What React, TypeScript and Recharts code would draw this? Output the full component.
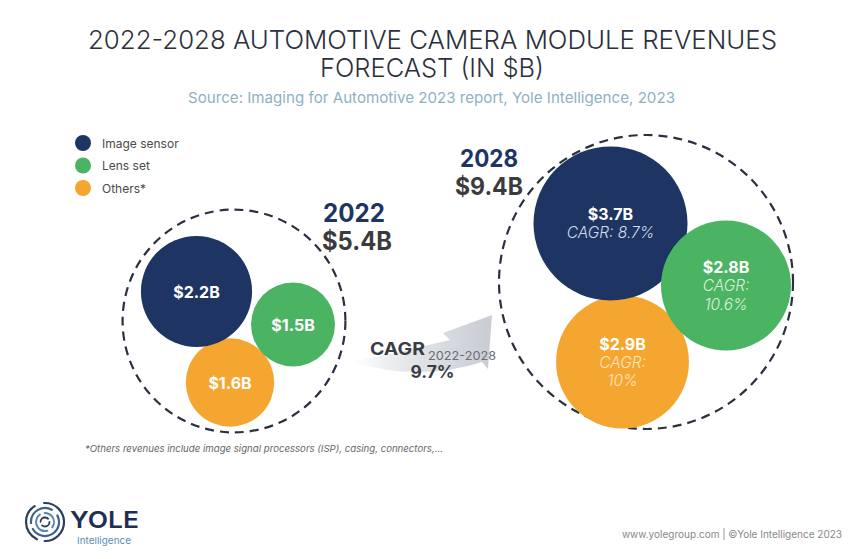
import React from 'react';
import { ScatterChart, Scatter, XAxis, YAxis, ZAxis } from 'recharts';

const W = 865;
const H = 559;

// ---- data ----
const years = ['2022', '2028'];
const yearTotals = [5.4, 9.4];
const segments = ['Image sensor', 'Lens set', 'Others*'];
const revenue2022 = [2.2, 1.5, 1.6];
const revenue2028 = [3.7, 2.8, 2.9];
const cagr2028 = ['8.7%', '10.6%', '10%'];
const totalCagr = '9.7%';
const cagrPeriod = '2022-2028';

// ---- layout (chart units) ----
const groupCenter = [
  [234, 321],
  [646, 282],
];
const bubbleCenter2022 = [
  [196.5, 291.5],
  [293, 324.5],
  [230, 382.5],
];
const bubbleCenter2028 = [
  [610.5, 223.5],
  [726, 285.5],
  [622.5, 362],
];
const drawOrder = [2, 0, 1];

// ---- styles ----
const colors = ['#1e3563', '#4bb462', '#f4a631'];
const cagrColors = ['#d3dcee', '#d9f2dd', '#fde6c0'];
const FONT = 'Inter, "Open Sans", sans-serif';

const fmt = (v: number) => `$${v.toFixed(1)}B`;

const segmentData = (seg: number) => [
  {
    x: bubbleCenter2022[seg][0],
    y: bubbleCenter2022[seg][1],
    v: revenue2022[seg],
    seg,
    cagr: null as string | null,
  },
  {
    x: bubbleCenter2028[seg][0],
    y: bubbleCenter2028[seg][1],
    v: revenue2028[seg],
    seg,
    cagr: cagr2028[seg] as string | null,
  },
];

const totalData = yearTotals.map((v, i) => ({
  x: groupCenter[i][0],
  y: groupCenter[i][1],
  v,
}));

const Bubble = (props: any) => {
  const { cx, cy, width, payload } = props;
  const r = width / 2;
  const seg = payload.seg;
  const valueText = (dy: number) => (
    <text
      x={cx}
      y={cy + dy}
      textAnchor="middle"
      dominantBaseline="central"
      fill="#ffffff"
      fontFamily={FONT}
      fontWeight={700}
      fontSize={16}
    >
      {fmt(payload.v)}
    </text>
  );
  const cagrStyle = {
    fill: cagrColors[seg],
    fontFamily: FONT,
    fontStyle: 'italic' as const,
    fontWeight: 300,
    fontSize: 15.5,
  };
  let content;
  if (!payload.cagr) {
    content = valueText(0);
  } else if (r > 70) {
    content = (
      <>
        {valueText(-10)}
        <text x={cx} y={cy + 9} textAnchor="middle" dominantBaseline="central" style={cagrStyle}>
          {`CAGR: ${payload.cagr}`}
        </text>
      </>
    );
  } else {
    content = (
      <>
        {valueText(-18.5)}
        <text x={cx} y={cy} textAnchor="middle" dominantBaseline="central" style={cagrStyle}>
          CAGR:
        </text>
        <text x={cx} y={cy + 18.5} textAnchor="middle" dominantBaseline="central" style={cagrStyle}>
          {payload.cagr}
        </text>
      </>
    );
  }
  return (
    <g>
      <circle cx={cx} cy={cy} r={r} fill={colors[seg]} />
      {content}
    </g>
  );
};

const DashedRing = (props: any) => {
  const { cx, cy, width } = props;
  return (
    <circle
      cx={cx}
      cy={cy}
      r={width / 2}
      fill="none"
      stroke="#2a3040"
      strokeWidth={2.2}
      strokeDasharray="9 6"
    />
  );
};

const Overlay = () => (
  <svg
    width={W}
    height={H}
    style={{ position: 'absolute', left: 0, top: 0, pointerEvents: 'none' }}
  >
    <defs>
      <linearGradient id="arrowGrad" x1="0" y1="0" x2="1" y2="0">
        <stop offset="0%" stopColor="#ffffff" />
        <stop offset="35%" stopColor="#e6e8eb" />
        <stop offset="100%" stopColor="#c8ccd3" />
      </linearGradient>
    </defs>

    {/* Title */}
    <text x={432.5} y={49} textAnchor="middle" fontFamily={FONT} fontWeight={300} fontSize={26}
      fill="#2c303c" textLength={689} lengthAdjust="spacingAndGlyphs">
      2022-2028 AUTOMOTIVE CAMERA MODULE REVENUES
    </text>
    <text x={432} y={77} textAnchor="middle" fontFamily={FONT} fontWeight={300} fontSize={26}
      fill="#2c303c" textLength={224} lengthAdjust="spacingAndGlyphs">
      FORECAST (IN $B)
    </text>
    <text x={431.5} y={103} textAnchor="middle" fontFamily={FONT} fontWeight={400} fontSize={15}
      fill="#8eb1c3" textLength={487} lengthAdjust="spacingAndGlyphs">
      Source: Imaging for Automotive 2023 report, Yole Intelligence, 2023
    </text>

    {/* Legend */}
    {segments.map((s, i) => (
      <g key={s}>
        <circle cx={83} cy={143 + i * 22.5} r={8} fill={colors[i]} />
        <text x={102} y={143 + i * 22.5} dominantBaseline="central" fontFamily={FONT}
          fontSize={12} fill="#4a4a4a">
          {s}
        </text>
      </g>
    ))}

    {/* Year labels */}
    <text x={354} y={222} textAnchor="middle" fontFamily={FONT} fontWeight={700} fontSize={25}
      fill="#1e3563" textLength={62} lengthAdjust="spacingAndGlyphs">
      {years[0]}
    </text>
    <text x={357} y={250} textAnchor="middle" fontFamily={FONT} fontWeight={700} fontSize={25}
      fill="#3b3b3d" textLength={70} lengthAdjust="spacingAndGlyphs">
      {fmt(yearTotals[0])}
    </text>
    <text x={489} y={167} textAnchor="middle" fontFamily={FONT} fontWeight={700} fontSize={24}
      fill="#1e3563" textLength={58} lengthAdjust="spacingAndGlyphs">
      {years[1]}
    </text>
    <text x={489} y={195} textAnchor="middle" fontFamily={FONT} fontWeight={700} fontSize={24}
      fill="#3b3b3d" textLength={68} lengthAdjust="spacingAndGlyphs">
      {fmt(yearTotals[1])}
    </text>

    {/* CAGR arrow */}
    <path
      d="M 352 362 Q 402 352 450 340 L 443 333 L 492 315 L 488 369 L 482 362 Q 420 382 352 362 Z"
      fill="url(#arrowGrad)"
    />
    <text x={370} y={355} fontFamily={FONT} fontWeight={700} fontSize={17.5} fill="#3a3d45"
      textLength={55} lengthAdjust="spacingAndGlyphs">
      CAGR
    </text>
    <text x={428} y={360} fontFamily={FONT} fontWeight={400} fontSize={12} fill="#6b6e75"
      textLength={68} lengthAdjust="spacingAndGlyphs">
      {cagrPeriod}
    </text>
    <text x={432.5} y={378} textAnchor="middle" fontFamily={FONT} fontWeight={700} fontSize={17}
      fill="#3a3d45" textLength={44} lengthAdjust="spacingAndGlyphs">
      {totalCagr}
    </text>

    {/* Footnote */}
    <text x={85} y={452} fontFamily={FONT} fontStyle="italic" fontWeight={400} fontSize={9.5}
      fill="#666" textLength={358} lengthAdjust="spacingAndGlyphs">
      *Others revenues include image signal processors (ISP), casing, connectors,...
    </text>

    {/* Yole logo */}
    <g fill="none" strokeLinecap="round">
      <circle cx={45} cy={522} r={19} stroke="#2c3d5e" strokeWidth={2.2} strokeDasharray="30 8 40 10" />
      <circle cx={45} cy={522} r={14} stroke="#3f628a" strokeWidth={2.2} strokeDasharray="22 6 30 8" transform="rotate(60 45 522)" />
      <circle cx={45} cy={522} r={9} stroke="#5a86ad" strokeWidth={2} strokeDasharray="15 5 20 6" transform="rotate(140 45 522)" />
      <circle cx={45} cy={522} r={4.5} stroke="#2c3d5e" strokeWidth={1.8} strokeDasharray="10 4" />
    </g>
    <text x={70} y={528} fontFamily={FONT} fontWeight={600} fontSize={23} fill="#1f2f52"
      textLength={69} lengthAdjust="spacingAndGlyphs">
      YOLE
    </text>
    <text x={77} y={544} fontFamily={FONT} fontWeight={400} fontSize={9.5} fill="#5a8db5"
      textLength={54} lengthAdjust="spacingAndGlyphs">
      Intelligence
    </text>

    {/* Footer */}
    <text x={842} y={538} textAnchor="end" fontFamily={FONT} fontSize={10} fill="#888">
      www.yolegroup.com | ©Yole Intelligence 2023
    </text>
  </svg>
);

export default function App() {
  return (
    <div style={{ position: 'relative', width: W, height: H, overflow: 'hidden', background: '#fff' }}>
      <style>{'body{margin:0;background:#fff}'}</style>
      <ScatterChart width={W} height={H} margin={{ top: 0, right: 0, bottom: 0, left: 0 }}>
        <XAxis type="number" dataKey="x" domain={[0, W]} hide />
        <YAxis type="number" dataKey="y" domain={[0, H]} reversed hide />
        <ZAxis zAxisId="total" type="number" dataKey="v" domain={[0, 9.4]} range={[0, Math.PI * 147 * 147]} />
        <ZAxis zAxisId="part" type="number" dataKey="v" domain={[1.5, 3.7]} range={[Math.PI * 42 * 42, Math.PI * 77 * 77]} />
        <Scatter data={totalData} zAxisId="total" shape={DashedRing} isAnimationActive={false} />
        {drawOrder.map((seg) => (
          <Scatter
            key={segments[seg]}
            name={segments[seg]}
            data={segmentData(seg)}
            zAxisId="part"
            shape={Bubble}
            isAnimationActive={false}
          />
        ))}
      </ScatterChart>
      <Overlay />
    </div>
  );
}
